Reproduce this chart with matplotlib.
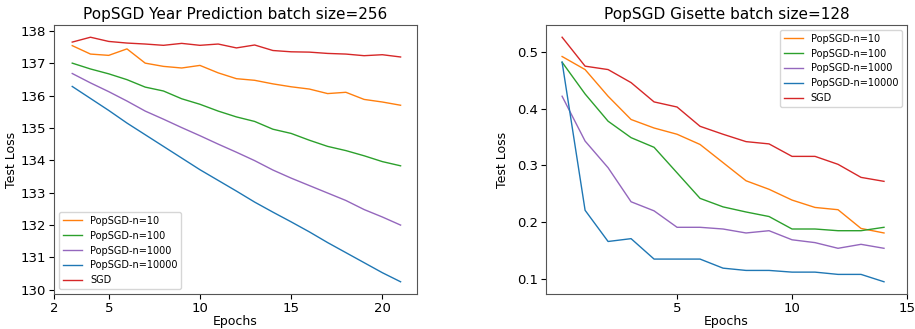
import matplotlib
matplotlib.use('Agg')
import matplotlib.pyplot as plt

# Year Prediction, batch size 256
year_epochs = list(range(3, 22))
year_n10 = [137.54, 137.28, 137.24, 137.44, 137.0, 136.9, 136.85, 136.93, 136.7, 136.52,
            136.47, 136.36, 136.27, 136.2, 136.06, 136.1, 135.88, 135.8, 135.7]
year_n100 = [137.0, 136.82, 136.67, 136.49, 136.26, 136.14, 135.9, 135.73, 135.52, 135.34,
             135.2, 134.96, 134.83, 134.62, 134.43, 134.3, 134.14, 133.96, 133.83]
year_n1000 = [136.68, 136.39, 136.12, 135.83, 135.52, 135.27, 135.01, 134.76, 134.5, 134.25,
              133.99, 133.7, 133.45, 133.22, 132.99, 132.76, 132.48, 132.25, 132.0]
year_n10000 = [136.28, 135.91, 135.54, 135.15, 134.79, 134.43, 134.07, 133.71, 133.38, 133.05,
               132.71, 132.4, 132.1, 131.79, 131.46, 131.15, 130.84, 130.53, 130.25]
year_sgd = [137.65, 137.8, 137.67, 137.62, 137.59, 137.55, 137.61, 137.55, 137.59, 137.47,
            137.56, 137.39, 137.35, 137.34, 137.3, 137.28, 137.23, 137.26, 137.19]

# Gisette, batch size 128
gis_epochs = list(range(0, 15))
gis_n10 = [0.492, 0.469, 0.422, 0.381, 0.366, 0.355, 0.337, 0.305, 0.273, 0.258,
           0.239, 0.226, 0.222, 0.189, 0.181]
gis_n100 = [0.482, 0.426, 0.378, 0.349, 0.332, 0.287, 0.242, 0.227, 0.218, 0.21,
            0.188, 0.188, 0.185, 0.185, 0.191]
gis_n1000 = [0.422, 0.343, 0.296, 0.236, 0.22, 0.191, 0.191, 0.188, 0.181, 0.185,
             0.169, 0.164, 0.154, 0.161, 0.154]
gis_n10000 = [0.482, 0.221, 0.166, 0.171, 0.135, 0.135, 0.135, 0.119, 0.115, 0.115,
              0.112, 0.112, 0.108, 0.108, 0.095]
gis_sgd = [0.526, 0.475, 0.469, 0.446, 0.412, 0.403, 0.369, 0.355, 0.342, 0.338,
           0.316, 0.316, 0.302, 0.279, 0.272]

labels = ['PopSGD-n=10', 'PopSGD-n=100', 'PopSGD-n=1000', 'PopSGD-n=10000', 'SGD']
colors = ['tab:orange', 'tab:green', 'tab:purple', 'tab:blue', 'tab:red']

fig = plt.figure(figsize=(9.15, 3.29), dpi=100)
ax1 = fig.add_axes([54/915, 1-294/329, (417-54)/915, (294-25)/329])
ax2 = fig.add_axes([546/915, 1-294/329, (907-546)/915, (294-25)/329])

for ys, lab, c in zip([year_n10, year_n100, year_n1000, year_n10000, year_sgd], labels, colors):
    ax1.plot(year_epochs, ys, color=c, label=lab, linewidth=1)
for ys, lab, c in zip([gis_n10, gis_n100, gis_n1000, gis_n10000, gis_sgd], labels, colors):
    ax2.plot(gis_epochs, ys, color=c, label=lab, linewidth=1)

ax1.set_xlim(2, 21.9)
ax1.set_xticks([2, 5, 10, 15, 20])
ax1.set_title('PopSGD Year Prediction batch size=256', fontsize=11, pad=4)
ax1.set_xlabel('Epochs', fontsize=9, labelpad=0)
ax1.set_ylabel('Test Loss', fontsize=9, labelpad=2)
ax1.legend(loc='lower left', fontsize=7)

ax2.set_xlim(-0.7, 15)
ax2.set_xticks([5, 10, 15])
ax2.set_title('PopSGD Gisette batch size=128', fontsize=11, pad=4)
ax2.set_xlabel('Epochs', fontsize=9, labelpad=0)
ax2.set_ylabel('Test Loss', fontsize=9, labelpad=6)
ax2.legend(loc='upper right', fontsize=7)

for ax in (ax1, ax2):
    ax.tick_params(labelsize=9.5, pad=2)
    for s in ax.spines.values():
        s.set_color('#555555')

fig.savefig('out.png', dpi=100)
